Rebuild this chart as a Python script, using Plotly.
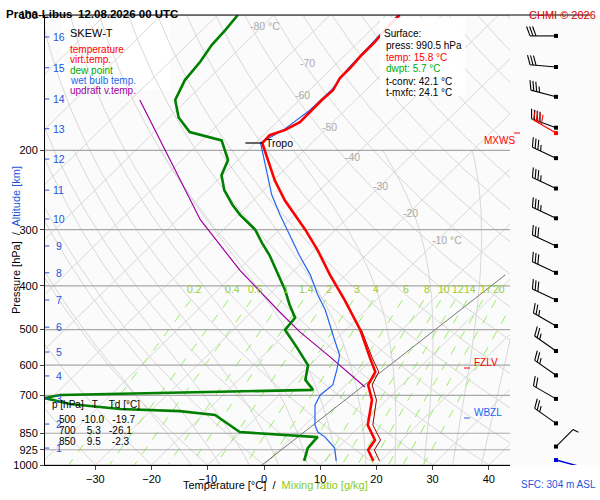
import numpy as np
import plotly.graph_objects as go

# ---------------- data ----------------
temp_p = [979, 926, 880, 815, 717, 664, 621, 578, 501, 430, 378, 333, 300, 278, 258, 233, 210, 192.5,
          185, 180, 173, 163, 154.5, 146.8, 138, 131, 122.7, 114.8, 108, 100]
temp_t = [18.7, 15.8, 15.2, 11.2, 7.4, 4.0, 2.9, -0.6, -7.4, -15.6, -22.8, -29.5, -35.4, -39.9, -44.4, -49.8,
          -54.7, -58.8, -58.9, -57.1, -55.9, -56.0, -56.0, -55.8, -56.8, -56.8, -57.1, -57.1, -57.5, -57.6]
virt_p = [979, 926, 880, 815, 717, 664, 621, 578, 501]
virt_t = [19.8, 16.9, 16.2, 12.1, 8.2, 4.7, 3.5, -0.2, -7.2]
dew_p = [979, 917, 880, 867, 845, 774, 759, 751, 732, 710, 699, 681, 647, 600, 547, 501, 471, 441, 408, 378,
         342, 321, 300, 278, 264, 245, 227, 210, 190, 182, 169, 154.5, 139.5, 127, 116.6, 108, 100]
dew_t = [6.4, 4.7, 4.5, 4.5, -10.3, -17.8, -24.8, -35.8, -45.6, -51.2, -49.0, -4.9, -8.1, -10.3, -15.6, -20.8,
         -21.2, -24.5, -28.1, -32.0, -37.1, -40.7, -44.3, -49.7, -52.9, -57.0, -60.2, -61.8, -66.5, -73.7,
         -78.3, -82.1, -84.0, -84.6, -85.6, -85.9, -86.4]
wb_p = [979, 917, 867, 845, 815, 736, 699, 664, 615, 570, 528, 489, 452, 419, 378, 342, 308, 278, 251, 221,
        192.5, 180, 163, 146.8, 131, 114.8, 100]
wb_t = [12.1, 9.5, 5.8, 3.6, 1.8, -1.8, -2.7, -2.3, -4.3, -6.5, -10.1, -13.7, -17.3, -21.3, -26.3, -31.8,
        -37.2, -42.6, -47.7, -53.2, -59.1, -57.4, -56.3, -56.1, -57.1, -57.4, -57.9]
parcel_p = [671, 575, 506, 457, 369, 285, 210, 154.5]
parcel_t = [3.8, -7.9, -17.8, -25.0, -39.7, -55.9, -72.1, -88.4]
ref_line_p = [1015, 378]
ref_line_t = [-0.5, 8.4]
tropo_p = 192.5

mix_vals = [0.2, 0.4, 0.6, 1, 1.4, 2, 3, 4, 6, 8, 10, 12, 14, 17, 20, 25]
mix_labels = ["0.2", "0.4", "0.6", "1", "1.4", "2", "3", "4", "6", "8", "10", "12", "14", "17", "20", "25"]
press_ticks = [100, 200, 300, 400, 500, 600, 700, 850, 925, 1000]
press_grid = [100, 200, 300, 400, 500, 600, 700, 850, 925, 1000]
temp_ticks = [-30, -20, -10, 0, 10, 20, 30, 40]
alt_km = list(range(1, 17))
alt_p = [917, 811, 713, 634, 561, 494, 430, 374, 326, 284, 245, 209, 179, 153.7, 131, 111.9]
iso_label_t = ["-80 °C", "-70", "-60", "-50", "-40", "-30", "-20", "-10 °C"]
iso_label_x = [0.2, 7.7, 6.8, 11.7, 15.8, 20.8, 26.0, 32.6]
iso_label_p = [106, 127.8, 150.5, 177, 207, 240, 275, 316]

wind_p = [111.3, 130.5, 152, 178, 208, 243, 283, 326, 374, 430, 491, 558, 632, 713, 808]
wind_dir = [270, 275, 285, 290, 295, 295, 295, 295, 295, 295, 300, 305, 305, 300, 305]
wind_kt = [30, 30, 35, 40, 35, 35, 35, 30, 30, 30, 25, 25, 25, 20, 25]
mxws_p, mxws_dir, mxws_kt = 183, 300, 40
low_wind_p, low_wind_dir = 910, 45
sfc_wind_p, sfc_wind_dir = 975, 105

SKEW = 35.5
def sx(t, p):
    return np.asarray(t, float) + SKEW * np.log(1000.0 / np.asarray(p, float))

fig = go.Figure()
pp = np.logspace(2, np.log10(1050), 120)

def add_line(x, y, color, width, dash=None, xaxis="x"):
    fig.add_trace(go.Scatter(x=x, y=y, mode="lines", xaxis=xaxis,
                             line=dict(color=color, width=width, dash=dash),
                             hoverinfo="skip", showlegend=False))

for t in range(-160, 50, 10):
    add_line(sx(t, pp), pp, "#d8d8d8", 1)
for th in range(-40, 200, 10):
    tt = (th + 273.15) * (pp / 1000.0) ** 0.286 - 273.15
    add_line(sx(tt, pp), pp, "#d8d8d8", 1)
def moist(t0):
    ps = np.linspace(1050, 200, 200)
    ts = [t0]
    for i in range(1, len(ps)):
        T = ts[-1] + 273.15
        p = ps[i - 1]
        es = 6.112 * np.exp(17.67 * (T - 273.15) / (T - 29.65))
        rs = 0.622 * es / (p - es)
        num = 287 * T + 2.5e6 * rs
        den = 1004 + 2.5e6 ** 2 * rs * 0.622 / (287 * T * T)
        ts.append(ts[-1] + num / den / p * (ps[i] - p))
    return ps, np.array(ts)
for t0 in range(-10, 45, 5):
    ps, ts = moist(t0)
    add_line(sx(ts, ps), ps, "#d8d8d8", 1)

mp = np.logspace(np.log10(430), np.log10(1050), 40)
for w, lab in zip(mix_vals, mix_labels):
    e = w * mp / (622 + w)
    l = np.log(e / 6.112)
    td = 243.5 * l / (17.67 - l)
    add_line(sx(td, mp), mp, "#99ee66", 1, dash="dash")
    e0 = w * 419 / (622 + w)
    l0 = np.log(e0 / 6.112)
    td0 = 243.5 * l0 / (17.67 - l0)
    fig.add_annotation(x=float(sx(td0, 419)), y=np.log10(419), text=lab,
                       showarrow=False, font=dict(color="#99cc33", size=10.5), yshift=6)

for p in press_grid:
    add_line([-45, 50], [p, p], "#a8a8a8", 1.2)

add_line(sx(ref_line_t, ref_line_p), ref_line_p, "#777777", 1)
add_line(sx(parcel_t, parcel_p), parcel_p, "#a000a0", 1.2)
add_line(sx(dew_t, dew_p), dew_p, "#008000", 2.6)
add_line(sx(wb_t, wb_p), wb_p, "#2266ee", 1.2)
add_line(sx(virt_t, virt_p), virt_p, "#990000", 1)
add_line(sx(temp_t, temp_p), temp_p, "#ff0000", 2.6)
tx = float(sx(temp_t[temp_p.index(tropo_p)], tropo_p))
add_line([tx - 3, tx], [tropo_p, tropo_p], "black", 1.2)
fig.add_annotation(x=tx + 0.3, y=np.log10(tropo_p), text="Tropo", showarrow=False, xanchor="left",
                   font=dict(size=10.5, color="black"))

for s, x, p in zip(iso_label_t, iso_label_x, iso_label_p):
    fig.add_annotation(x=x, y=np.log10(p), text=s, showarrow=False, font=dict(color="#aaaaaa", size=10.5))

for k, p in zip(alt_km, alt_p):
    fig.add_annotation(x=-36.5, y=np.log10(p), text=str(k), showarrow=False,
                       font=dict(color="#2255dd", size=10.5))
    add_line([-39, -38.2], [p, p], "#2255dd", 1)

def barb(p, d, kt, color, bx=46, L=26, width=1.1):
    r = np.radians(d)
    ux, uy = np.sin(r), np.cos(r)
    lp0 = np.log10(p)
    xs = [bx, bx + L * ux, None]
    ys = [p, 10 ** (lp0 - L * uy / 450), None]
    a = np.radians(70)
    fx = ux * np.cos(a) + uy * np.sin(a)
    fy = -ux * np.sin(a) + uy * np.cos(a)
    n_full, half = int(kt // 10), (kt % 10) >= 5
    for i in range(n_full + (1 if half else 0)):
        pos = L - i * 3
        x0 = bx + pos * ux
        y0 = lp0 - pos * uy / 450
        fl = 10 if i < n_full else 6
        xs += [x0, x0 + fl * fx, None]
        ys += [10 ** y0, 10 ** (y0 - fl * fy / 450), None]
    add_line(xs, ys, color, width, xaxis="x2")
    fig.add_trace(go.Scatter(x=[bx], y=[p], mode="markers", xaxis="x2",
                             marker=dict(color=color, size=4, symbol="square"),
                             hoverinfo="skip", showlegend=False))

for p, d, k in zip(wind_p, wind_dir, wind_kt):
    barb(p, d, k, "black")
barb(mxws_p, mxws_dir, mxws_kt, "red")
barb(low_wind_p, low_wind_dir, 5, "black", L=24)
barb(sfc_wind_p, sfc_wind_dir, 0, "#0000dd", L=24, width=1.4)

W, H, L, T = 600, 500, 45, 15
PW = W - L
def px(x): return (x - L) / PW
def py(y): return 1 - (y - T) / 450

def txt(x, y, s, color="black", size=10.5, anchor="left", bold=False):
    fig.add_annotation(xref="paper", yref="paper", x=px(x), y=py(y), text=("<b>%s</b>" % s) if bold else s,
                       showarrow=False, xanchor=anchor, font=dict(color=color, size=size))

fig.add_shape(type="rect", xref="paper", yref="paper", x0=px(62), x1=px(170), y0=py(90), y1=py(16),
              fillcolor="white", line=dict(width=0), layer="below")
fig.add_shape(type="rect", xref="paper", yref="paper", x0=px(380), x1=px(465), y0=py(96), y1=py(18),
              fillcolor="white", line=dict(width=0), layer="above", opacity=0.9)
txt(68, 25, "SKEW-T", size=11)
for i, (s, c) in enumerate([("temperature", "#ff0000"), ("virt.temp.", "#ff0000"), ("dew point", "#00aa00"),
                            ("wet bulb temp.", "#2266ee"), ("updraft v.temp.", "#a000a0")]):
    txt(68, 42 + i * 10.3, s, c, 10)
txt(382, 26, "Surface:", size=10)
txt(384, 38, "press: 990.5 hPa", size=10)
txt(384, 50, "temp: 15.8 °C", "#ff0000", 10)
txt(384, 61, "dwpt: 5.7 °C", "#00aa00", 10)
txt(384, 74, "t-conv: 42.1 °C", size=10)
txt(384, 85, "t-mxfc: 24.1 °C", size=10)
txt(50, 412, "p [hPa]   T    Td [°C]", size=10)
txt(57, 427, "500  -10.0   -19.7", size=10)
txt(57, 438, "700    5.3   -26.1", size=10)
txt(57, 449, "850    9.5    -2.3", size=10)
txt(482, 133, "MXWS", "#ff0000", 10)
txt(472, 370, "FZLV", "#ff0000", 10)
txt(472, 420, "WBZL", "#2266ee", 10)
for y, c, x0 in [(133, "#ff0000", 514), (370, "#ff0000", 464), (420, "#2266ee", 464)]:
    fig.add_shape(type="line", xref="paper", yref="paper", x0=px(x0), x1=px(x0 + 6), y0=py(y - (0 if x0 == 514 else 2)),
                  y1=py(y - (0 if x0 == 514 else 2)), line=dict(color=c, width=1))
txt(4, 6, "Praha-Libus", size=11.5, bold=True)
txt(76, 6, "12.08.2026 00 UTC", size=11.5, bold=True)
txt(598, 7, "CHMI © 2026", "#dd0000", 11, anchor="right")
txt(598, 492, "SFC: 304 m ASL", "#2255dd", 10, anchor="right")
fig.add_annotation(xref="paper", yref="paper", x=px(275), y=py(493),
                   text='Temperature [°C]  /  <span style="color:#88cc22">Mixing ratio [g/kg]</span>',
                   showarrow=False, font=dict(size=11, color="black"))
fig.add_annotation(xref="paper", yref="paper", x=px(8), y=py(240), textangle=-90,
                   text='Pressure [hPa]  /  <span style="color:#2255dd">Altitude [km]</span>',
                   showarrow=False, font=dict(size=11, color="black"))
fig.add_shape(type="line", xref="paper", yref="paper", x0=px(45), x1=px(590), y0=1, y1=1,
              line=dict(color="black", width=1))

d1 = (510 - L) / PW
fig.update_layout(
    width=W, height=H, margin=dict(l=L, r=0, t=T, b=35, autoexpand=False),
    paper_bgcolor="white", plot_bgcolor="#fbfbfb",
    font=dict(family="Liberation Sans, Arial", size=11, color="black"),
    xaxis=dict(domain=[0, d1], range=[(45 - 264) / 5.62, (510 - 264) / 5.62], tickvals=temp_ticks,
               showgrid=False, zeroline=False, showline=True, linecolor="black", ticks="outside", ticklen=4,
               automargin=False),
    xaxis2=dict(domain=[d1, 1], range=[0, 90], visible=False, anchor="y"),
    yaxis=dict(type="log", range=[3, 2], tickvals=press_ticks, ticktext=[str(v) for v in press_ticks],
               showgrid=False, zeroline=False, showline=True, linecolor="black", ticks="outside", ticklen=4,
               automargin=False),
    showlegend=False,
)
fig.write_html("out.html", config={"displayModeBar": False},
               post_script="document.body.style.margin='0';document.body.style.padding='0';")
